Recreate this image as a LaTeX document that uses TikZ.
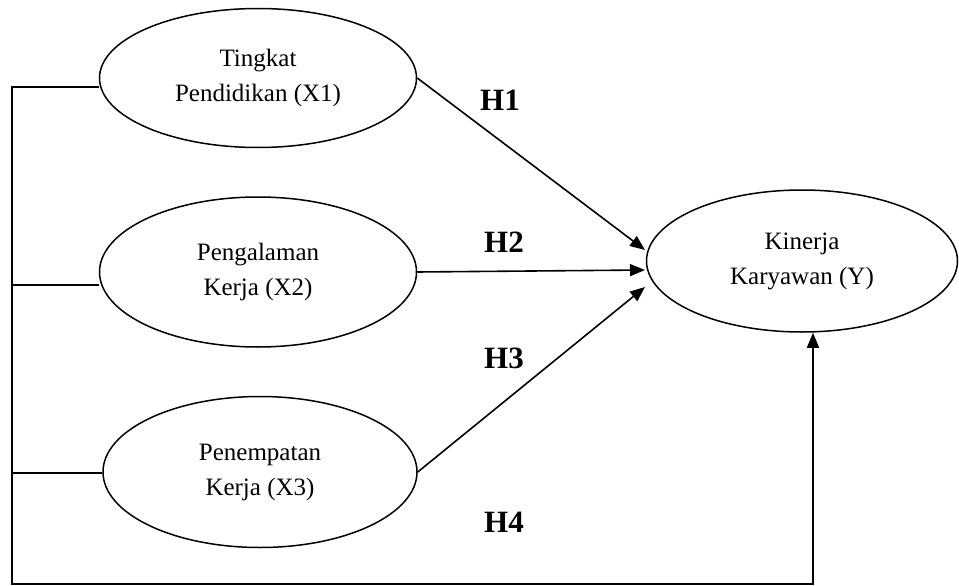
\documentclass[tikz,border=0pt]{standalone}
\usepackage{fontspec}
\setmainfont{Liberation Serif}
\usetikzlibrary{shapes.geometric,arrows.meta}
\begin{document}
\begin{tikzpicture}[x=1pt,y=-1pt,
  var/.style={draw, ellipse, line width=1.5pt, inner sep=0pt, align=center,
    font=\fontsize{25}{35}\selectfont},
  conn/.style={line width=1.6pt, line join=miter},
  arr/.style={line width=1.6pt, line join=miter, -{Triangle[length=15pt,width=12pt]}},
  hyp/.style={font=\fontsize{31}{34}\selectfont\bfseries, inner sep=0pt}]
\useasboundingbox (0,0) rectangle (959,586);
\node[var, minimum width=317pt, minimum height=139pt] (X1) at (258,78) {Tingkat\\Pendidikan (X1)};
\node[var, minimum width=317pt, minimum height=150pt] (X2) at (258,272) {Pengalaman\\Kerja (X2)};
\node[var, minimum width=314pt, minimum height=151pt] (X3) at (260,472) {Penempatan\\Kerja (X3)};
\node[var, minimum width=311pt, minimum height=142pt] (Y) at (802,261) {Kinerja\\Karyawan (Y)};
\coordinate (L1) at (12,87);
\coordinate (L2) at (12,285);
\coordinate (L3) at (12,473);
\coordinate (B0) at (12,584);
\coordinate (B) at (813,584);
\coordinate (T1) at (645,250);
\coordinate (T2) at (645,270);
\coordinate (T3) at (645,287);
\draw[arr] (X1.east) -- (T1);
\draw[arr] (X2.east) -- (T2);
\draw[arr] (X3.east) -- (T3);
\draw[arr] (L1 -| X1.west) -- (L1) -- (B0) -- (B) -- (B |- Y.south);
\draw[conn] (L2) -- (L2 -| X2.west);
\draw[conn] (L3) -- (L3 -| X3.west);
\node[hyp] (h1) at (500,100) {H1};
\node[hyp] (h2) at (504,242) {H2};
\node[hyp] (h3) at (504,358) {H3};
\node[hyp] (h4) at (504,522) {H4};
\end{tikzpicture}
\end{document}
